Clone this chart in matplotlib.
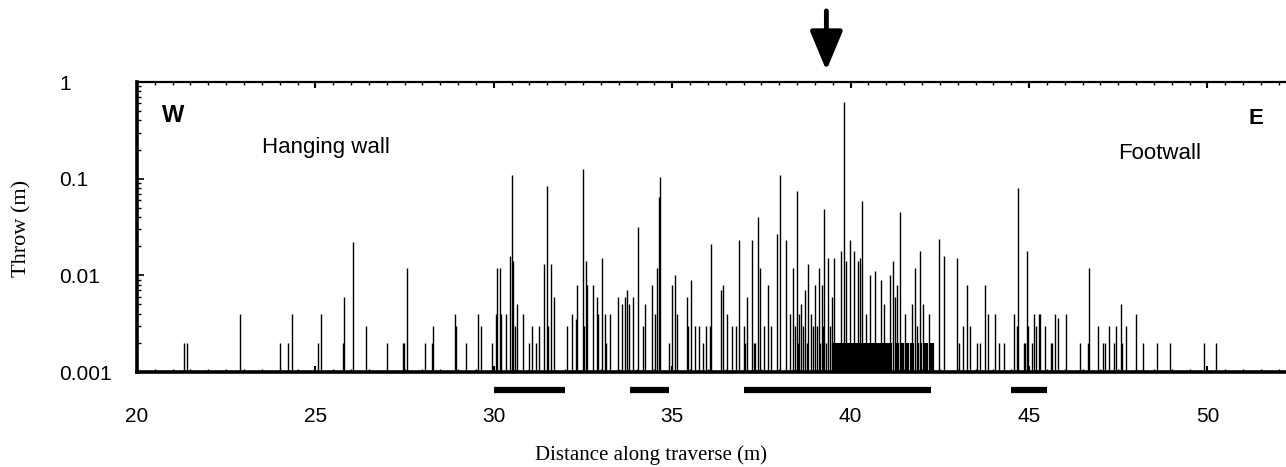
import matplotlib.pyplot as plt
import matplotlib.transforms as mtransforms
from matplotlib.ticker import FixedLocator, MultipleLocator, LogLocator, NullFormatter

# hanging wall (west of the fault zone)
west_x = [21.33, 21.41, 22.88, 24.00, 24.22, 24.35, 25.07, 25.16, 25.78, 25.80,
          26.05, 26.42, 27.00, 27.45, 27.48, 27.56, 28.08, 28.28, 28.31, 28.91,
          28.94, 29.23, 29.55, 29.63]
west_t = [0.002, 0.002, 0.004, 0.002, 0.002, 0.004, 0.002, 0.004, 0.002, 0.006,
          0.022, 0.003, 0.002, 0.002, 0.002, 0.012, 0.002, 0.002, 0.003, 0.004,
          0.003, 0.002, 0.004, 0.003]

# damage zone 30 - 38 m
mid_x = [29.96, 30.06, 30.08, 30.18, 30.20, 30.33, 30.44, 30.50, 30.55, 30.60,
         30.65, 30.83, 31.00, 31.06, 31.17, 31.28, 31.40, 31.48, 31.53, 31.59,
         31.70, 32.05, 32.18, 32.30, 32.34, 32.49, 32.54, 32.58, 32.62, 32.77,
         32.88, 32.93, 33.02, 33.11, 33.14, 33.26, 33.47, 33.59, 33.68, 33.73,
         33.78, 33.90, 34.04, 34.18, 34.23, 34.44, 34.52, 34.57, 34.62, 34.66,
         34.90, 35.00, 35.07, 35.13, 35.41, 35.44, 35.53, 35.65, 35.75, 35.86,
         35.96, 36.05, 36.10, 36.38, 36.42, 36.54, 36.68, 36.79, 36.87, 37.00,
         37.05, 37.10, 37.23, 37.28, 37.33, 37.41, 37.45, 37.56, 37.69, 37.76,
         37.93, 38.03]
mid_t = [0.002, 0.004, 0.012, 0.012, 0.004, 0.004, 0.016, 0.11, 0.014, 0.003,
         0.005, 0.004, 0.002, 0.003, 0.002, 0.003, 0.013, 0.083, 0.003, 0.013,
         0.006, 0.003, 0.004, 0.0035, 0.008, 0.125, 0.003, 0.014, 0.008, 0.008,
         0.006, 0.004, 0.015, 0.004, 0.002, 0.004, 0.006, 0.005, 0.006, 0.007,
         0.005, 0.006, 0.032, 0.003, 0.005, 0.008, 0.004, 0.012, 0.065, 0.105,
         0.002, 0.008, 0.010, 0.004, 0.006, 0.003, 0.009, 0.003, 0.003, 0.002,
         0.003, 0.003, 0.021, 0.007, 0.008, 0.004, 0.003, 0.003, 0.023, 0.003,
         0.002, 0.006, 0.023, 0.002, 0.002, 0.040, 0.012, 0.003, 0.008, 0.003,
         0.027, 0.11]

# fault core 38 - 44.7 m
core_x = [38.19, 38.30, 38.38, 38.50, 38.56, 38.62, 38.73, 38.81, 38.88, 39.00,
          39.12, 39.19, 39.26, 39.37, 39.47, 39.54, 39.73, 39.80, 39.88, 39.99,
          40.10, 40.20, 40.27, 40.33, 40.43, 40.54, 40.69, 40.84, 40.93, 41.09,
          41.18, 41.23, 41.29, 41.37, 41.52, 41.71, 41.79, 41.85, 41.94, 42.03,
          42.20, 42.48, 42.63, 42.97, 43.05, 43.15, 43.27, 43.35, 43.55, 43.63,
          43.76, 43.84, 44.04, 44.15, 44.29, 44.59, 44.66, 44.69]
core_t = [0.023, 0.004, 0.012, 0.075, 0.004, 0.005, 0.007, 0.013, 0.004, 0.008,
          0.012, 0.008, 0.048, 0.015, 0.006, 0.015, 0.018, 0.62, 0.014, 0.023,
          0.018, 0.014, 0.015, 0.059, 0.004, 0.010, 0.011, 0.009, 0.005, 0.010,
          0.014, 0.006, 0.008, 0.045, 0.004, 0.005, 0.012, 0.003, 0.018, 0.005,
          0.004, 0.024, 0.016, 0.015, 0.002, 0.003, 0.008, 0.003, 0.002, 0.002,
          0.008, 0.004, 0.004, 0.002, 0.002, 0.004, 0.003, 0.081]

# small faults at the western edge of the core
small_x = [38.43, 38.53, 38.66, 38.77, 38.94, 39.06, 39.15, 39.23, 39.31, 39.42]
small_t = [0.003, 0.002, 0.003, 0.002, 0.003, 0.003, 0.002, 0.003, 0.002, 0.003]

# closely spaced small faults in the core
dense_x = [39.50, 39.54, 39.58, 39.62, 39.66, 39.70, 39.74, 39.78, 39.82, 39.86,
           39.90, 39.94, 39.98, 40.02, 40.06, 40.10, 40.14, 40.18, 40.22, 40.26,
           40.30, 40.34, 40.38, 40.42, 40.46, 40.50, 40.54, 40.58, 40.62, 40.66,
           40.70, 40.74, 40.78, 40.82, 40.86, 40.90, 40.94, 40.98, 41.02, 41.06,
           41.10, 41.14, 41.26, 41.34, 41.42, 41.48, 41.56, 41.62, 41.68, 41.76,
           41.88, 41.98, 42.08, 42.14, 42.26, 42.30]
dense_t = [0.002] * 56

# footwall (east)
east_x = [44.85, 44.88, 44.94, 44.98, 45.08, 45.14, 45.19, 45.27, 45.32, 45.44,
          45.62, 45.65, 45.74, 45.82, 46.03, 46.43, 46.65, 46.69, 46.93, 47.06,
          47.13, 47.24, 47.38, 47.43, 47.57, 47.61, 47.73, 47.99, 48.18, 48.59,
          48.95, 49.89, 50.24]
east_t = [0.002, 0.002, 0.018, 0.003, 0.002, 0.004, 0.003, 0.004, 0.004, 0.003,
          0.002, 0.002, 0.004, 0.0036, 0.004, 0.002, 0.002, 0.012, 0.003, 0.002,
          0.002, 0.003, 0.002, 0.003, 0.005, 0.002, 0.003, 0.004, 0.002, 0.002,
          0.002, 0.002, 0.002]

# zones marked under the axis
zones = [(30.0, 32.0), (33.83, 34.9), (37.0, 42.24), (44.5, 45.5)]
fault_x = 39.32

y_ticks = [0.001, 0.01, 0.1, 1]
y_labels = ['0.001', '0.01', '0.1', '1']
x_ticks = [20, 25, 30, 35, 40, 45, 50]

sans = 'Liberation Sans'
serif = 'Liberation Serif'

fig = plt.figure(figsize=(12.86, 4.67), dpi=100)
ax = fig.add_axes([0.1065, 0.2034, 0.8935, 0.621])
ax.set_yscale('log')
ax.set_ylim(0.001, 1)
ax.set_xlim(20, 52.2)

for xs, ts in [(west_x, west_t), (mid_x, mid_t), (core_x, core_t),
               (small_x, small_t), (east_x, east_t)]:
    ax.vlines(xs, 0.001, ts, colors='black', lw=1.0)
ax.vlines(dense_x, 0.001, dense_t, colors='black', lw=1.6)

ax.spines['right'].set_visible(False)
ax.spines['left'].set_linewidth(2.6)
ax.spines['bottom'].set_linewidth(2.6)
ax.spines['top'].set_linewidth(1.6)

ax.yaxis.set_major_locator(FixedLocator(y_ticks))
ax.set_yticklabels(y_labels, fontsize=15, family=sans)
ax.yaxis.set_minor_locator(LogLocator(base=10, subs=range(2, 10)))
ax.yaxis.set_minor_formatter(NullFormatter())
ax.tick_params(axis='y', which='major', direction='in', length=5, width=1.2, pad=56)
ax.tick_params(axis='y', which='minor', direction='in', length=3, width=1)
for lab in ax.get_yticklabels():
    lab.set_horizontalalignment('left')

ax.set_xticks(x_ticks)
ax.set_xticklabels([str(t) for t in x_ticks], fontsize=15, family=sans)
ax.xaxis.set_minor_locator(MultipleLocator(0.5))
ax.tick_params(axis='x', which='both', direction='in', top=True, pad=25)
ax.tick_params(axis='x', which='major', length=4, width=1.5)
ax.tick_params(axis='x', which='minor', length=2, width=1)

trans = mtransforms.blended_transform_factory(ax.transData, ax.transAxes)
for a, b in zones:
    ax.plot([a, b], [-0.062, -0.062], transform=trans, color='black', lw=4.5,
            solid_capstyle='butt', clip_on=False)

ax.annotate('', xy=(fault_x, 1.04), xycoords=trans,
            xytext=(fault_x, 1.245), textcoords=trans,
            arrowprops=dict(arrowstyle='-|>,head_length=1.2,head_width=0.5',
                            lw=3.5, color='black', mutation_scale=20,
                            shrinkA=0, shrinkB=0))

ax.text(20.7, 0.45, 'W', fontsize=17, fontweight='bold', family=sans, va='center')
ax.text(51.35, 0.42, 'E', fontsize=16, fontweight='bold', family=sans,
        va='center', ha='center')
ax.text(23.5, 0.21, 'Hanging wall', fontsize=16, family=sans, va='center')
ax.text(48.65, 0.18, 'Footwall', fontsize=16, family=sans, va='center', ha='center')

fig.text(22 / 1286, 1 - 228 / 467, 'Throw (m)', rotation=90, family=serif,
         fontsize=16, ha='center', va='center')
fig.text(651 / 1286, 1 - 455 / 467, 'Distance along traverse (m)', family=serif,
         fontsize=15, ha='center', va='center')

fig.savefig('out.png', dpi=100)
